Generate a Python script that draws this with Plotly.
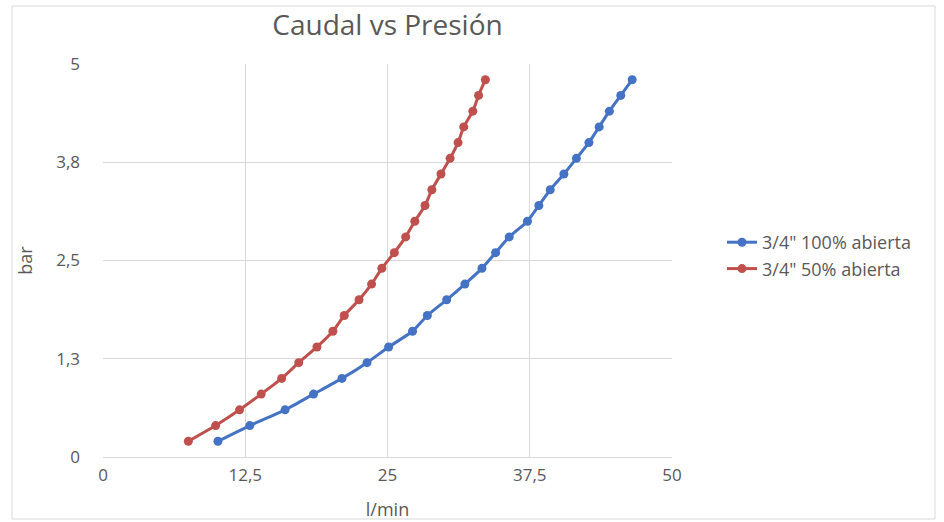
import plotly.graph_objects as go

# Data
presion_bar = [0.2, 0.4, 0.6, 0.8, 1.0, 1.2, 1.4, 1.6, 1.8, 2.0, 2.2, 2.4,
               2.6, 2.8, 3.0, 3.2, 3.4, 3.6, 3.8, 4.0, 4.2, 4.4, 4.6, 4.8]
caudal_100 = [10.1, 12.9, 16.0, 18.5, 21.0, 23.2, 25.1, 27.2, 28.5, 30.2, 31.8, 33.3,
              34.5, 35.7, 37.3, 38.3, 39.3, 40.5, 41.6, 42.7, 43.6, 44.5, 45.5, 46.5]
caudal_50 = [7.5, 9.9, 12.0, 13.9, 15.7, 17.2, 18.8, 20.2, 21.2, 22.5, 23.6, 24.5,
             25.6, 26.6, 27.4, 28.3, 28.9, 29.7, 30.5, 31.2, 31.7, 32.5, 33.0, 33.6]

series_names = ['3/4" 100% abierta', '3/4" 50% abierta']
series_colors = ["#4472C4", "#C0504D"]

x_tickvals = [0, 12.5, 25, 37.5, 50]
x_ticktext = ["0", "12,5", "25", "37,5", "50"]
y_tickvals = [0, 1.25, 2.5, 3.75, 5]
y_ticktext = ["0", "1,3", "2,5", "3,8", "5"]

FONT = "Open Sans, DejaVu Sans, sans-serif"
GRAY = "#595959"

fig = go.Figure()
for xs, name, color in [(caudal_100, series_names[0], series_colors[0]),
                        (caudal_50, series_names[1], series_colors[1])]:
    fig.add_trace(go.Scatter(
        x=xs, y=presion_bar, name=name, mode="lines+markers",
        line=dict(color=color, width=3, shape="spline", smoothing=0.6),
        marker=dict(color=color, size=9),
    ))

W, H = 944, 522
ml, mr, mt, mb = 103, 272, 64, 65
pw, ph = W - ml - mr, H - mt - mb

fig.update_layout(
    width=W, height=H,
    margin=dict(l=ml, r=mr, t=mt, b=mb, autoexpand=False),
    paper_bgcolor="white", plot_bgcolor="white",
    font=dict(family=FONT, color=GRAY, size=17),
    title=dict(text="Caudal vs Presión", x=0.5, xref="paper", xanchor="center",
               y=1 - 25 / H, yanchor="middle",
               font=dict(size=28, color=GRAY, family=FONT)),
    showlegend=True,
    legend=dict(x=(722 - ml) / pw, xanchor="left", y=(mt + ph - 255.5) / ph,
                yanchor="middle", font=dict(size=18, color=GRAY, family=FONT),
                bgcolor="rgba(0,0,0,0)", tracegroupgap=0),
    xaxis=dict(range=[0, 50], tickvals=x_tickvals, ticktext=x_ticktext,
               showgrid=True, gridcolor="#D9D9D9", gridwidth=1,
               zeroline=False, showline=True, linecolor="#D9D9D9", linewidth=1,
               ticks="", tickfont=dict(size=17, color=GRAY), ticklabelstandoff=3,
               title=dict(text="l/min", font=dict(size=18, color=GRAY), standoff=17),
               automargin=False),
    yaxis=dict(range=[0, 5], tickvals=y_tickvals, ticktext=y_ticktext,
               showgrid=True, gridcolor="#D9D9D9", gridwidth=1,
               zeroline=False, showline=False,
               ticks="", tickfont=dict(size=17, color=GRAY), ticklabelstandoff=22,
               title=dict(text="bar", font=dict(size=18, color=GRAY), standoff=18),
               automargin=False),
)

# light chart-area border
fig.add_shape(type="rect", xref="paper", yref="paper",
              x0=(12 - ml) / pw, x1=(935 - ml) / pw,
              y0=(mt + ph - 519) / ph, y1=(mt + ph - 6) / ph,
              line=dict(color="#D9D9D9", width=1), layer="below")

fig.write_html("out.html", config={"displayModeBar": False},
               post_script="document.body.style.margin='0';")
